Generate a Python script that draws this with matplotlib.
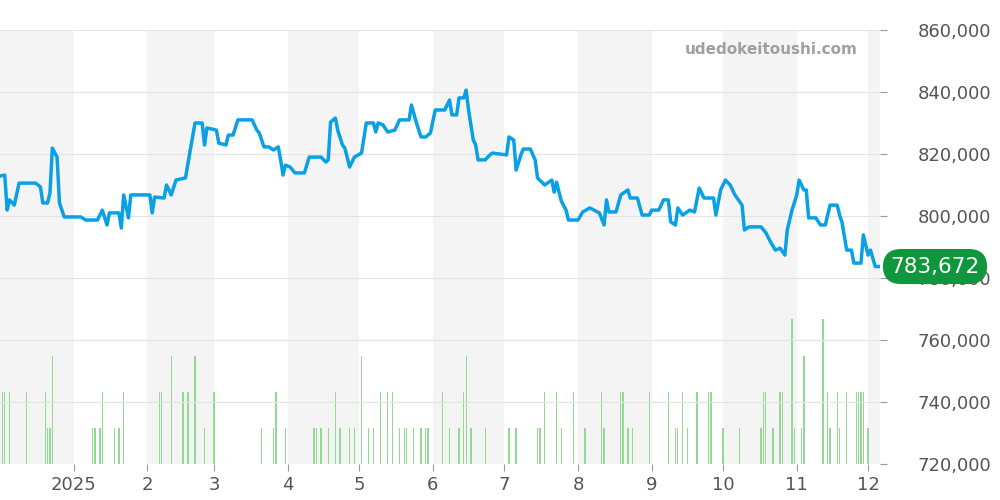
import matplotlib
matplotlib.use("Agg")
import matplotlib.pyplot as plt
import numpy as np
import pandas as pd

start = pd.Timestamp("2024-12-01")
price_days = [0,2,3,4,6,8,15,17,18,20,21,22,24,25,27,34,36,41,43,45,46,50,51,52,54,55,63,64,65,69,70,72,74,78,80,82,85,86,87,91,92,95,96,98,100,106,108,109,111,113,115,117,118,119,120,122,124,128,130,135,137,138,139,141,142,144,145,147,149,152,154,157,158,159,161,163,166,168,172,173,175,177,179,181,183,187,189,190,192,193,195,196,197,199,200,201,204,206,207,213,214,216,217,219,220,223,225,226,229,232,233,234,236,238,239,243,245,248,252,254,255,256,259,261,264,265,268,270,273,274,277,279,281,282,284,285,287,290,292,294,296,300,301,303,305,307,309,312,313,315,320,322,324,326,328,330,331,333,335,336,338,339,340,343,345,347,349,352,353,354,356,358,359,362,363,365,366,368,370]
price_k = [812.9,813.2,801.9,805.2,803.5,810.6,810.6,809.4,804.2,804.2,807.4,821.9,819.0,804.2,799.7,799.7,798.7,798.7,801.9,797.1,801.0,801.0,796.1,806.8,799.4,806.8,806.8,801.0,806.1,805.8,810.0,806.8,811.6,812.3,821.3,830.0,830.0,822.9,828.4,827.7,823.5,822.9,826.1,826.1,831.0,831.0,827.7,826.8,822.3,822.3,821.3,822.3,818.1,813.2,816.4,815.8,813.9,813.9,819.0,819.0,817.4,818.1,830.3,831.6,827.7,822.9,821.9,815.8,819.0,820.3,830.0,830.0,827.1,830.0,829.4,827.1,827.7,831.0,831.0,835.8,830.3,825.5,825.5,826.8,834.2,834.2,837.4,832.6,832.6,838.1,838.1,840.6,834.2,824.5,822.9,818.1,818.1,819.7,820.3,819.7,825.5,824.5,814.8,819.7,821.6,821.6,818.1,812.3,810.0,811.6,807.7,810.9,804.8,801.9,798.7,798.7,801.3,802.6,801.0,797.1,805.2,801.3,801.3,806.8,808.4,805.8,805.8,800.3,800.3,801.9,801.9,805.2,805.2,798.1,797.1,802.6,800.3,801.9,801.3,809.0,805.8,805.8,800.3,808.4,811.6,810.0,806.8,803.5,795.5,796.5,796.5,794.6,791.6,789.0,789.6,787.4,795.5,801.9,806.8,811.6,808.4,808.4,799.4,799.4,797.1,797.1,803.5,803.5,800.3,798.1,789.0,789.0,784.8,784.8,793.9,787.4,789.0,783.7,783.7]

vol_days = [1,2,4,11,19,20,21,22,39,40,42,43,48,50,52,67,68,72,77,79,82,86,90,110,115,116,120,132,133,135,138,141,143,147,149,152,155,157,160,163,165,168,170,171,174,177,179,180,186,189,193,195,196,198,204,214,217,226,227,229,234,236,241,246,253,254,261,262,264,266,273,281,284,285,287,289,293,298,299,304,311,320,321,322,325,328,329,333,334,337,338,346,348,349,352,353,356,360,361,362,363,365]
vol = [2,2,2,2,2,1,1,3,1,1,1,2,1,1,2,2,2,3,2,2,3,1,2,1,1,2,1,1,1,1,1,2,1,1,1,3,1,1,2,2,2,1,1,1,1,1,1,1,2,1,1,2,3,1,1,1,1,1,1,2,2,1,2,1,2,1,2,2,1,1,2,2,1,1,2,1,2,2,2,1,1,1,2,2,1,2,2,4,1,1,3,4,2,1,2,1,2,2,2,2,2,1]

last_label = "783,672"
tick_labels = ["2025","2","3","4","5","6","7","8","9","10","11","12"]

pdates = start + pd.to_timedelta(price_days, unit="D")
vdates = start + pd.to_timedelta(vol_days, unit="D")
prices = np.array(price_k) * 1000

fig = plt.figure(figsize=(10, 5), dpi=100)
ax = fig.add_axes([0.0, 0.072, 0.88, 0.868])
ax2 = ax.twinx()
ax.set_zorder(ax2.get_zorder() + 1)
ax.patch.set_visible(False)

xmin, xmax = start, start + pd.Timedelta(days=370)
for m in ["2024-12-01", "2025-02-01", "2025-04-01", "2025-06-01", "2025-08-01", "2025-10-01", "2025-12-01"]:
    s = pd.Timestamp(m)
    e = s + pd.offsets.MonthBegin(1)
    ax2.axvspan(s, e, color="#f4f4f4", zorder=0, lw=0)

ax2.bar(vdates, vol, width=0.55, color="#93d993", lw=0, zorder=2)
ax2.set_ylim(0, 12)
ax2.set_yticks([])

ax.plot(pdates, prices, color="#0aa0e6", lw=2.5, zorder=5, solid_joinstyle="round")
ax.set_ylim(720000, 860000)
ax.set_xlim(xmin, xmax)
ax2.set_xlim(xmin, xmax)
yt = np.arange(720000, 860001, 20000)
ax.set_yticks(yt)
ax.yaxis.tick_right()
ax.set_yticklabels([f"{v:,}" for v in yt], fontsize=13, color="#555555")
for y in yt:
    ax.axhline(y, color="#e3e3e3", lw=0.8, zorder=1)
months = [pd.Timestamp(f"2025-{i:02d}-01") for i in range(1, 13)]
ax.set_xticks(months)
ax.set_xticklabels(tick_labels, fontsize=13, color="#555555")
ax.tick_params(axis="both", length=5, color="#999999")
ax.tick_params(axis="y", pad=22)
for a in (ax, ax2):
    for sp in a.spines.values():
        sp.set_visible(False)

ax.text(0.975, 0.955, "udedokeitoushi.com", transform=ax.transAxes, ha="right", va="center",
        fontsize=11, fontweight="bold", color="#a0a0a0")
ax.annotate(last_label, xy=(1.0, prices[-1]), xycoords=("axes fraction", "data"),
            xytext=(1.0625, prices[-1]), textcoords=("axes fraction", "data"),
            ha="center", va="center", fontsize=15.5, color="white", zorder=10,
            bbox=dict(boxstyle="round,pad=0.35,rounding_size=0.85", fc="#10963c", ec="none"),
            annotation_clip=False)

fig.savefig("out.png")
